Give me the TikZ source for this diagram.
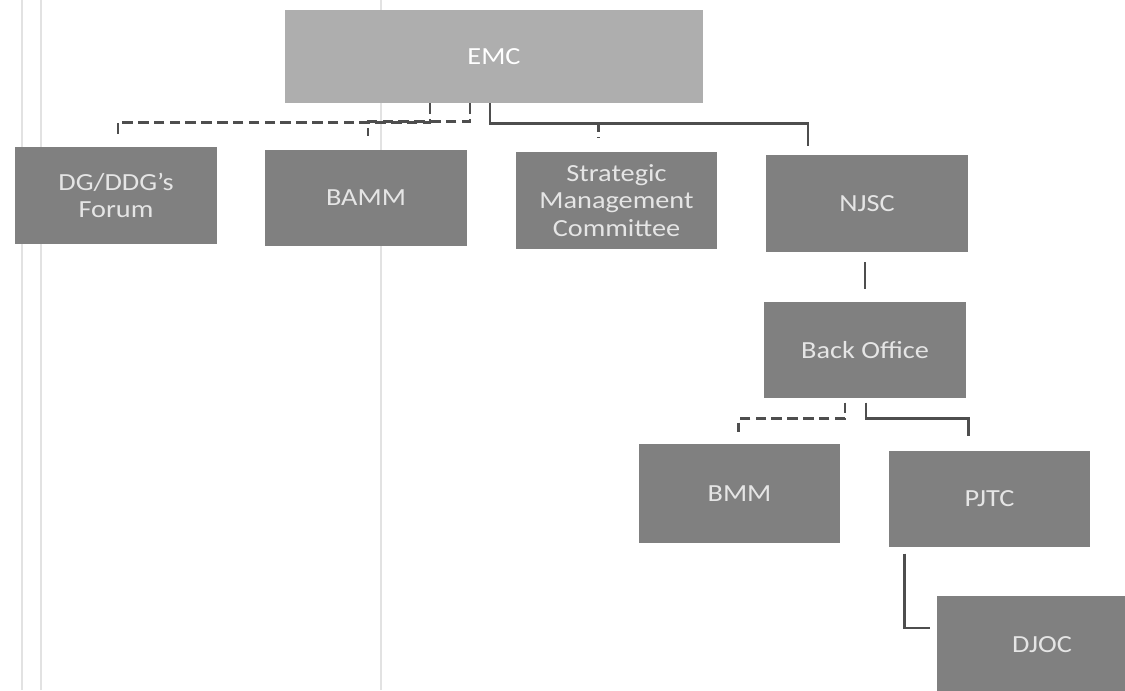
\documentclass[tikz,border=0pt]{standalone}
\usepackage{fontspec}
\setmainfont{Carlito}[FakeStretch=1.15]
\usetikzlibrary{calc}

\definecolor{boxgray}{RGB}{128,128,128}
\definecolor{topgray}{RGB}{174,174,174}
\definecolor{linkgray}{RGB}{78,78,78}
\definecolor{scangray}{RGB}{226,226,226}

\begin{document}
\begin{tikzpicture}[x=0.02cm, y=-0.02cm,
  unit/.style={fill=boxgray, text=white!90!black, minimum width=4.04cm,
    minimum height=1.93cm, align=center, inner sep=2pt,
    font=\fontsize{14}{15.5}\selectfont},
  link/.style={draw=linkgray, line width=1.5pt},
  dashlink/.style={link, dash pattern=on 6pt off 3pt}]
\useasboundingbox (0,0) rectangle (1125,690);
\clip (0,0) rectangle (1125,690);

% faint scan lines
\draw[scangray, line width=1pt] (22,0) -- (22,690);
\draw[scangray, line width=1pt] (41,0) -- (41,690);
\draw[scangray, line width=1pt] (381,0) -- (381,690);

% boxes
\node[unit, fill=topgray, text=white, minimum width=8.36cm, minimum height=1.86cm] (emc) at (494,56.5) {EMC};
\node[unit] (forum) at (116,195.5) {DG/DDG's\\Forum};
\node[unit] (bamm)  at (366,198)   {BAMM};
\node[unit] (smc)   at (616.5,200.5) {Strategic\\Management\\Committee};
\node[unit] (njsc)  at (867,203.5) {NJSC};
\node[unit] (back)  at (865,350)   {Back Office};
\node[unit, minimum height=1.98cm] (bmm) at (739.5,493.5) {BMM};
\node[unit] (pjtc)  at (989.5,499) {PJTC};
\node[unit, minimum width=4.2cm, minimum height=1.96cm] (djoc) at (1042,645) {DJOC};

% links from EMC
\draw[dashlink] ($(emc.south)+(-64,0)$) -- ++(0,19) -| ($(forum.north)+(2,-10)$);
\draw[dashlink] ($(emc.south)+(-24,0)$) -- ++(0,18) -| ($(bamm.north)+(2,-13)$);
\draw[dashlink] ($(emc.south)+(-4,0)$) -- ++(0,20) -| ($(smc.north)+(-18,-14)$);
\draw[link] ($(emc.south)+(-4,0)$) -- ++(0,20) -| ($(njsc.north)+(-59,-9)$);

% NJSC branch
\draw[link] ($(njsc.south)+(-2,10)$) -- ($(back.north)+(0,-12)$);
\draw[dashlink] ($(back.south)+(-20,4)$) -- ++(0,16) -| ($(bmm.north)+(-1,-12)$);
\draw[link] ($(back.south)+(1,4)$) -- ++(0,16) -| ($(pjtc.north)+(-21,-14)$);
\draw[link] ($(pjtc.south west)+(16,6)$) |- ($(djoc.west)+(-7,-17)$);
\end{tikzpicture}
\end{document}
